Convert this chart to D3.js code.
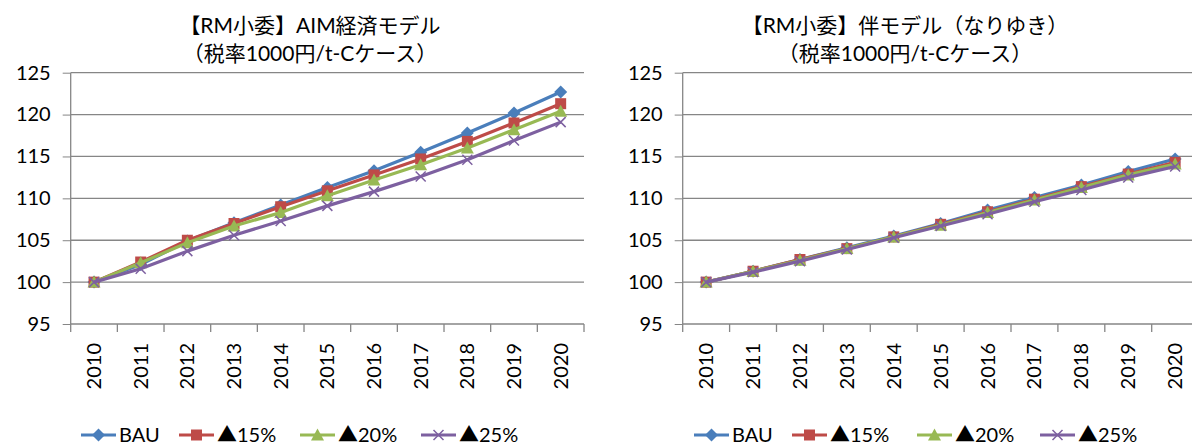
<!DOCTYPE html>
<html>
<head>
<meta charset="utf-8">
<script src="https://d3js.org/d3.v7.min.js"></script>
<style>
  body { margin: 0; background: #fff; }
  text { font-family: Lato, "Noto Sans CJK JP", sans-serif; fill: #000; }
</style>
</head>
<body>
<svg width="1192" height="446"></svg>
<script>
// --- Daten ---
const years = ["2010","2011","2012","2013","2014","2015","2016","2017","2018","2019","2020"];
const seriesNames = ["BAU","▲15%","▲20%","▲25%"];
const yTicks = [95,100,105,110,115,120,125];

// AIM経済モデル
const aimBAU = [100,102.1,104.9,107.1,109.2,111.3,113.3,115.5,117.8,120.2,122.7];
const aim15  = [100,102.4,105.0,107.0,109.0,110.9,112.8,114.7,116.8,119.0,121.3];
const aim20  = [100,102.3,104.7,106.7,108.3,110.3,112.2,114.0,116.0,118.2,120.4];
const aim25  = [100,101.6,103.7,105.6,107.3,109.1,110.8,112.6,114.6,116.9,119.1];

// 伴モデル（なりゆき）
const banBAU = [100,101.3,102.7,104.1,105.5,107.0,108.6,110.1,111.6,113.2,114.7];
const ban15  = [100,101.3,102.7,104.0,105.4,106.9,108.4,109.9,111.4,112.9,114.3];
const ban20  = [100,101.3,102.6,104.0,105.4,106.8,108.3,109.8,111.3,112.8,114.1];
const ban25  = [100,101.2,102.5,103.9,105.3,106.7,108.1,109.6,111.0,112.5,113.8];

const colors = ["#4A7EBB","#BE4B48","#98B954","#7D60A0"];
const markerTypes = ["diamond","square","triangle","x"];

const svg = d3.select("svg");

function markerPath(t) {
  if (t === "diamond") return "M0,-6.5L6.5,0L0,6.5L-6.5,0Z";
  if (t === "square") return "M-5.5,-5.5H5.5V5.5H-5.5Z";
  if (t === "triangle") return "M0,-6.5L6.5,5.5H-6.5Z";
  return "M-5,-5L5,5M-5,5L5,-5";
}
function drawMarker(g, t, c, x, y) {
  const p = g.append("path").attr("d", markerPath(t))
    .attr("transform", `translate(${x},${y})`);
  if (t === "x") p.attr("fill", "none").attr("stroke", c).attr("stroke-width", 1.5);
  else p.attr("fill", c);
}

function chart(cfg) {
  const g = svg.append("g");
  const x = d3.scaleBand().domain(years).range([cfg.x0, cfg.x1]);
  const y = d3.scaleLinear().domain([95,125]).range([324, 72.7]);
  const bw = x.bandwidth();

  // Titel
  g.append("text").attr("x", cfg.cx).attr("y", 33).attr("text-anchor","middle")
    .style("font-size","21px").text(cfg.title1);
  g.append("text").attr("x", cfg.cx).attr("y", 61).attr("text-anchor","middle")
    .style("font-size","21px").text(cfg.title2);

  // Gitterlinien + y-Achse
  const ya = g.append("g").attr("transform", `translate(${cfg.x0},0)`)
    .call(d3.axisLeft(y).tickValues(yTicks).tickSize(8).tickPadding(12));
  ya.select(".domain").remove();
  ya.selectAll("line").attr("stroke","#868686");
  ya.selectAll("text").style("font-size","20px").attr("fill","#000");
  g.append("g").selectAll("line").data(yTicks).join("line")
    .attr("x1", cfg.x0).attr("x2", cfg.x1)
    .attr("y1", d => y(d)).attr("y2", d => y(d))
    .attr("stroke","#868686").attr("stroke-width",1.3);
  g.append("line").attr("x1", cfg.x0).attr("x2", cfg.x0)
    .attr("y1", y(125)).attr("y2", y(95)).attr("stroke","#868686").attr("stroke-width",1.3);

  // x-Achse: Striche an Bandgrenzen
  const edges = years.map(d => x(d)).concat([cfg.x1]);
  g.append("g").selectAll("line").data(edges).join("line")
    .attr("x1", d => d).attr("x2", d => d)
    .attr("y1", y(95)).attr("y2", y(95) + 8).attr("stroke","#868686").attr("stroke-width",1.3);
  g.append("g").selectAll("text").data(years).join("text")
    .attr("transform", d => `translate(${x(d) + bw/2 + 7},343) rotate(-90)`)
    .attr("text-anchor","end").style("font-size","20px").text(d => d);

  // Linien
  const line = d3.line().x((d,i) => x(years[i]) + bw/2).y(d => y(d));
  cfg.series.forEach((s, k) => {
    g.append("path").datum(s).attr("d", line).attr("fill","none")
      .attr("stroke", colors[k]).attr("stroke-width", 3.2).attr("stroke-linejoin","round");
    s.forEach((v, i) => drawMarker(g, markerTypes[k], colors[k], x(years[i]) + bw/2, y(v)));
  });

  // Legende
  seriesNames.forEach((n, k) => {
    const lx = cfg.legendX[k];
    g.append("line").attr("x1", lx).attr("x2", lx + 35).attr("y1", 435).attr("y2", 435)
      .attr("stroke", colors[k]).attr("stroke-width", 3.2);
    drawMarker(g, markerTypes[k], colors[k], lx + 17.5, 435);
    g.append("text").attr("x", lx + 38).attr("y", 442).style("font-size","20px").text(n);
  });
}

chart({
  x0: 70.7, x1: 584, cx: 310,
  title1: "【RM小委】AIM経済モデル", title2: "（税率1000円/t-Cケース）",
  series: [aimBAU, aim15, aim20, aim25],
  legendX: [81, 179, 300, 421]
});
chart({
  x0: 682.7, x1: 1198.6, cx: 905,
  title1: "【RM小委】伴モデル（なりゆき）", title2: "（税率1000円/t-Cケース）",
  series: [banBAU, ban15, ban20, ban25],
  legendX: [694, 792, 917, 1040]
});
</script>
</body>
</html>
